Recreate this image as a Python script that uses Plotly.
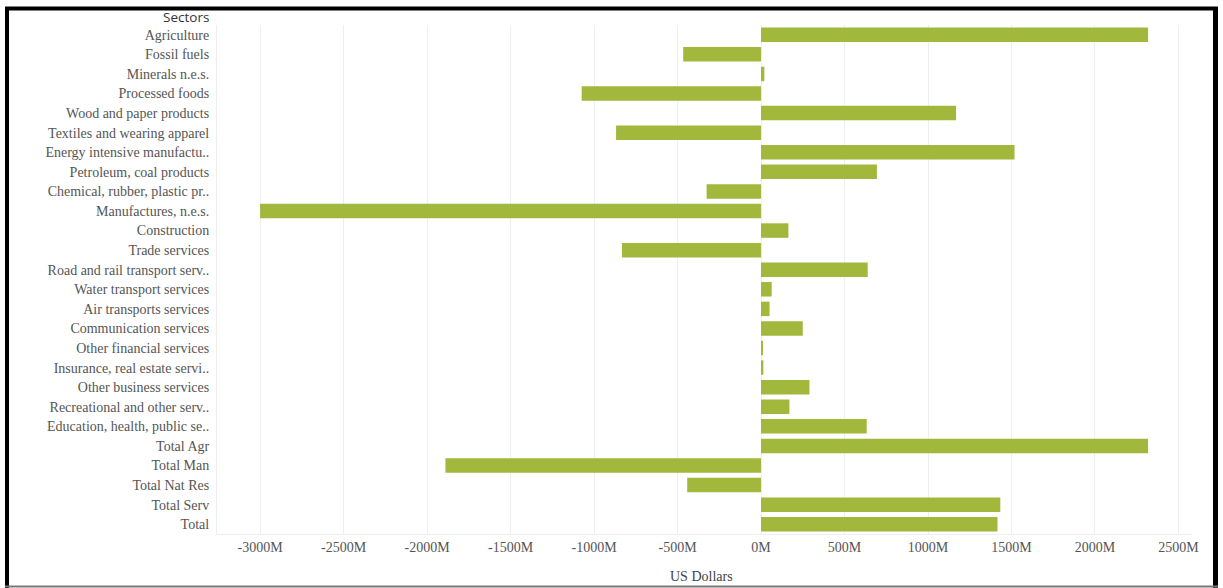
import plotly.graph_objects as go

sectors = [
    "Agriculture", "Fossil fuels", "Minerals n.e.s.", "Processed foods",
    "Wood and paper products", "Textiles and wearing apparel",
    "Energy intensive manufactu..", "Petroleum, coal products",
    "Chemical, rubber, plastic pr..", "Manufactures, n.e.s.", "Construction",
    "Trade services", "Road and rail transport serv..", "Water transport services",
    "Air transports services", "Communication services", "Other financial services",
    "Insurance, real estate servi..", "Other business services",
    "Recreational and other serv..", "Education, health, public se..",
    "Total Agr", "Total Man", "Total Nat Res", "Total Serv", "Total",
]
values_musd = [
    2318, -466, 20, -1074,
    1168, -868,
    1518, 694,
    -326, -3000, 164,
    -833, 639, 64,
    51, 250, 6,
    14, 290,
    170, 633,
    2318, -1890, -442, 1433, 1416,
]
tick_vals = [-3000, -2500, -2000, -1500, -1000, -500, 0, 500, 1000, 1500, 2000, 2500]
tick_text = [f"{v}M" for v in tick_vals]

W, H = 1223, 588
ML, MR, MT, MB = 217, 31, 25, 54
PW = W - ML - MR
PH = H - MT - MB


def px_x(px):
    return (px - ML) / PW


def px_y(py):
    return (H - MB - py) / PH


fig = go.Figure(
    go.Bar(
        x=values_musd,
        y=sectors,
        orientation="h",
        marker=dict(color="#A1B83C", line=dict(width=0)),
        hovertemplate="%{y}: %{x}M<extra></extra>",
    )
)

serif = "Liberation Serif, Times New Roman, serif"
FS = 14

fig.update_layout(
    width=W,
    height=H,
    margin=dict(l=ML, r=MR, t=MT, b=MB),
    paper_bgcolor="white",
    plot_bgcolor="white",
    bargap=0.26,
    showlegend=False,
    font=dict(family=serif, size=FS, color="#555555"),
    xaxis=dict(
        range=[-3258, 2581],
        tickvals=tick_vals,
        ticktext=tick_text,
        showgrid=True,
        gridcolor="#eeeeee",
        gridwidth=1,
        zeroline=True,
        zerolinecolor="#eeeeee",
        zerolinewidth=1,
        showline=True,
        linecolor="#eeeeee",
        linewidth=1,
        ticks="",
        tickfont=dict(family=serif, size=FS, color="#555555"),
        fixedrange=True,
    ),
    yaxis=dict(
        autorange="reversed",
        showgrid=False,
        zeroline=False,
        showline=True,
        linecolor="#eeeeee",
        linewidth=1,
        ticks="outside",
        ticklen=4,
        tickcolor="rgba(0,0,0,0)",
        tickfont=dict(family=serif, size=FS, color="#555555"),
        fixedrange=True,
    ),
    annotations=[
        dict(
            text="Sectors",
            xref="paper", yref="paper",
            x=px_x(211), y=px_y(17),
            xanchor="right", yanchor="middle",
            showarrow=False,
            font=dict(family="Open Sans, Lato, sans-serif", size=13.5, color="#333333"),
        ),
        dict(
            text="US Dollars",
            xref="paper", yref="paper",
            x=px_x(701), y=px_y(576),
            xanchor="center", yanchor="middle",
            showarrow=False,
            font=dict(family=serif, size=FS, color="#444444"),
        ),
    ],
    shapes=[
        dict(type="line", xref="paper", yref="paper",
             x0=px_x(7), x1=px_x(7), y0=px_y(8), y1=px_y(590),
             line=dict(color="black", width=4)),
        dict(type="line", xref="paper", yref="paper",
             x0=px_x(5), x1=px_x(1218), y0=px_y(8.5), y1=px_y(8.5),
             line=dict(color="black", width=4)),
        dict(type="line", xref="paper", yref="paper",
             x0=px_x(1215.5), x1=px_x(1215.5), y0=px_y(7), y1=px_y(590),
             line=dict(color="black", width=5)),
        dict(type="line", xref="paper", yref="paper",
             x0=px_x(5), x1=px_x(1218), y0=px_y(586.5), y1=px_y(586.5),
             line=dict(color="#777777", width=2)),
    ],
)

fig.write_html("out.html")
